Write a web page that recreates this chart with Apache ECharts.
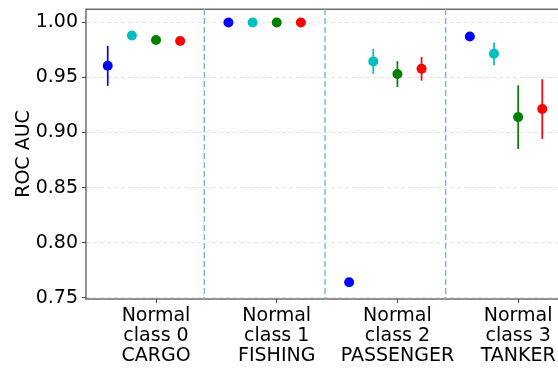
<!DOCTYPE html>
<html>
<head>
<meta charset="utf-8">
<script src="https://cdn.jsdelivr.net/npm/echarts@6/dist/echarts.min.js"></script>
<style>
  html, body { margin: 0; padding: 0; background: #fff; }
  #chart { width: 558px; height: 368px; }
</style>
</head>
<body>
<div id="chart"></div>
<script>
// Category labels along the x axis
const categories = ['Normal\nclass 0\nCARGO', 'Normal\nclass 1\nFISHING', 'Normal\nclass 2\nPASSENGER', 'Normal\nclass 3\nTANKER'];

// Mean ROC AUC per category for the four runs, with their standard deviations
const blueMean = [0.9606, 1.000, 0.764, 0.9873];
const blueStd  = [0.0182, 0, 0, 0];
const cyanMean = [0.9882, 1.000, 0.9646, 0.9715];
const cyanStd  = [0, 0, 0.0113, 0.0103];
const greenMean = [0.984, 1.000, 0.9531, 0.914];
const greenStd  = [0, 0, 0.0118, 0.029];
const redMean = [0.9831, 1.000, 0.9579, 0.9213];
const redStd  = [0, 0, 0.0108, 0.0271];

// y-axis tick values
const yTicks = [0.75, 0.80, 0.85, 0.90, 0.95, 1.00];

const runs = [
  { mean: blueMean, std: blueStd, color: '#0000ff', offset: -0.4 },
  { mean: cyanMean, std: cyanStd, color: '#00bfbf', offset: -0.2 },
  { mean: greenMean, std: greenStd, color: '#008000', offset: 0 },
  { mean: redMean, std: redStd, color: '#ff0000', offset: 0.2 }
];

const X_MIN = -0.58, X_MAX = 3.38;
const Y_MIN = 0.7488, Y_MAX = 1.0122;

const xTicks = categories.map((_, i) => i);
const separators = categories.slice(0, -1).map((_, i) => i + 0.4);

const series = [];

// Light dashed horizontal grid lines
series.push({
  type: 'custom',
  silent: true,
  animation: false,
  z: 0,
  renderItem: function (params, api) {
    const v = api.value(0);
    const a = api.coord([X_MIN, v]);
    const b = api.coord([X_MAX, v]);
    return {
      type: 'line',
      shape: { x1: a[0], y1: a[1], x2: b[0], y2: b[1] },
      style: { stroke: '#dedede', lineWidth: 0.8, lineDash: [4, 3] }
    };
  },
  data: yTicks.map(v => [v])
});

// Dashed separators between category groups
series.push({
  type: 'custom',
  silent: true,
  animation: false,
  z: 1,
  renderItem: function (params, api) {
    const v = api.value(0);
    const a = api.coord([v, Y_MAX]);
    const b = api.coord([v, Y_MIN]);
    return {
      type: 'line',
      shape: { x1: a[0], y1: a[1], x2: b[0], y2: b[1] },
      style: { stroke: '#7fb4d9', lineWidth: 1.4, lineDash: [6, 3] }
    };
  },
  data: separators.map(v => [v])
});

runs.forEach(run => {
  // Error bars: mean ± std
  series.push({
    type: 'custom',
    renderItem: function (params, api) {
      const x = api.value(0), m = api.value(1), s = api.value(2);
      if (!s) return null;
      const top = api.coord([x, m + s]);
      const bot = api.coord([x, m - s]);
      return {
        type: 'line',
        shape: { x1: top[0], y1: top[1], x2: bot[0], y2: bot[1] },
        style: { stroke: run.color, lineWidth: 1.7 }
      };
    },
    data: run.mean.map((m, i) => [i + run.offset, m, run.std[i]]),
    z: 3,
    animation: false
  });
  // Mean markers
  series.push({
    type: 'scatter',
    symbol: 'circle',
    symbolSize: 10,
    itemStyle: { color: run.color, opacity: 1, borderWidth: 0 },
    data: run.mean.map((m, i) => [i + run.offset, m]),
    z: 4,
    animation: false
  });
});

const chart = echarts.init(document.getElementById('chart'), null, { renderer: 'canvas' });
chart.setOption({
  animation: false,
  backgroundColor: '#fff',
  grid: { left: 86, top: 9, width: 478, height: 290, containLabel: false, outerBoundsMode: 'none' },
  xAxis: {
    type: 'value',
    min: X_MIN,
    max: X_MAX,
    splitLine: { show: false },
    axisLine: { show: true, onZero: false, lineStyle: { color: '#6e6e6e', width: 1.5 } },
    axisTick: { show: true, length: 4, customValues: xTicks, lineStyle: { color: '#444', width: 1 } },
    axisLabel: {
      customValues: xTicks,
      formatter: v => categories[Math.round(v)],
      fontFamily: 'DejaVu Sans',
      fontSize: 19,
      lineHeight: 20,
      color: '#000',
      margin: 7,
      align: 'center'
    }
  },
  yAxis: {
    type: 'value',
    min: Y_MIN,
    max: Y_MAX,
    name: 'ROC AUC',
    nameLocation: 'middle',
    nameGap: 52,
    nameMoveOverlap: false,
    nameTextStyle: { fontFamily: 'DejaVu Sans', fontSize: 19, color: '#000' },
    splitLine: { show: false },
    axisLine: { show: true, onZero: false, lineStyle: { color: '#6e6e6e', width: 1.5 } },
    axisTick: { show: true, length: 4, customValues: yTicks, lineStyle: { color: '#444', width: 1 } },
    axisLabel: {
      customValues: yTicks,
      formatter: v => v.toFixed(2),
      fontFamily: 'DejaVu Sans',
      fontSize: 19,
      color: '#000',
      margin: 8
    }
  },
  graphic: [
    // top spine of the plot frame
    {
      type: 'line',
      shape: { x1: 86, y1: 9.3, x2: 564, y2: 9.3 },
      style: { stroke: '#6e6e6e', lineWidth: 1.5 },
      silent: true
    }
  ],
  series: series
});
</script>
</body>
</html>
